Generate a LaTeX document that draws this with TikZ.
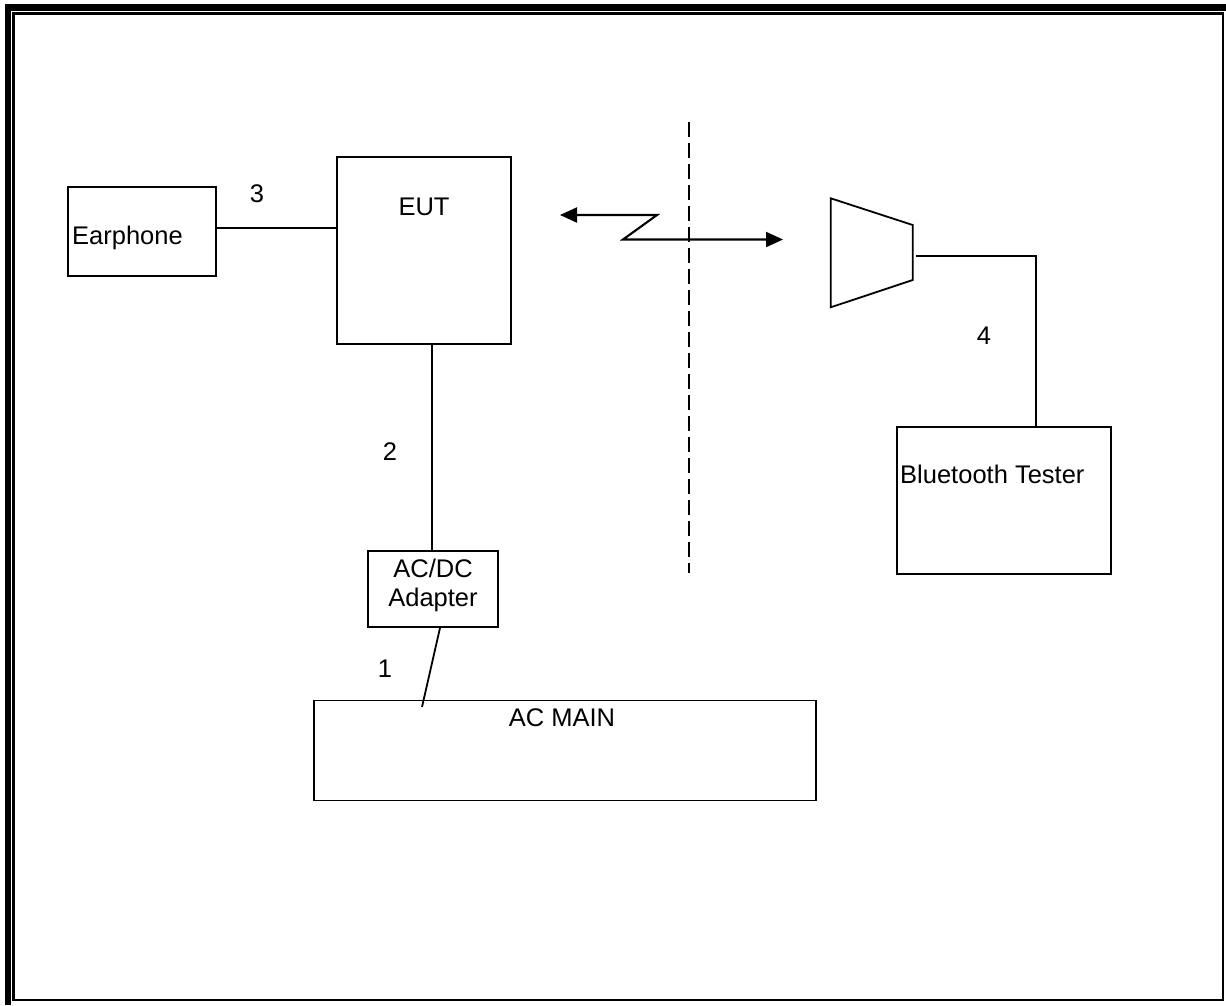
\documentclass[tikz,border=0pt]{standalone}
\usepackage{fontspec}
\setmainfont{Liberation Sans}
\usetikzlibrary{arrows.meta}
\begin{document}
\begin{tikzpicture}[x=1pt,y=-1pt,
  box/.style={draw, line width=1.8pt, inner sep=0pt},
  lbl/.style={font=\fontsize{25.5}{29}\selectfont, inner sep=0pt},
  wire/.style={line width=1.8pt},
  radio/.style={line width=2.1pt, {Triangle[length=17pt,width=15pt]}-{Triangle[length=17pt,width=15pt]}},
  sep/.style={line width=1.7pt, dash pattern=on 15pt off 6pt}
]
\useasboundingbox (0,0) rectangle (1226,1005);
% page border
\fill (4.5,3.5) rectangle (1226,10.5);
\fill (4.5,3.5) rectangle (11,1005);
\draw[line width=2.2pt] (13.5,13.5) rectangle (1223,1000);

% boxes
\node[box, minimum width=148pt, minimum height=89pt] (ear) at (142,231.5) {};
\node[box, minimum width=174pt, minimum height=187pt] (eut) at (424,250.5) {};
\node[box, minimum width=130pt, minimum height=76pt] (adp) at (433,589) {};
\node[box, minimum width=502pt, minimum height=100pt] (acm) at (565,750.5) {};
\node[box, minimum width=214pt, minimum height=147pt] (bt) at (1004,500.5) {};

% texts
\node[lbl, anchor=base west] (tear) at (72,244) {Earphone};
\node[lbl, anchor=base] (teut) at (424,215) {EUT};
\node[lbl, anchor=base] (tadp1) at (433,577) {AC/DC};
\node[lbl, anchor=base] (tadp2) at (433,606) {Adapter};
\node[lbl, anchor=base] (tacm) at (562,726) {AC MAIN};
\node[lbl, anchor=base west] (tbt) at (900,483) {Bluetooth Tester};

% cable numbers
\node[lbl, anchor=base] (n3) at (257,202) {3};
\node[lbl, anchor=base] (n2) at (390,460) {2};
\node[lbl, anchor=base] (n1) at (385,677) {1};
\node[lbl, anchor=base] (n4) at (984,344) {4};

% antenna
\coordinate (a1) at (830.7,198.3);
\coordinate (a2) at (912.7,225);
\coordinate (a3) at (912.7,280);
\coordinate (a4) at (830.7,307.3);
\draw[wire, line join=miter] (a1) -- (a2) -- (a3) -- (a4) -- cycle;
\coordinate (aout) at (916,256);

% connectors
\coordinate (e1) at ([yshift=3.5pt]ear.east);
\draw[wire] (e1) -- (e1 -| eut.west);
\coordinate (e2) at ([xshift=7.7pt]eut.south);
\draw[wire] (e2) -- (e2 |- adp.north);
\coordinate (d1) at ([xshift=7pt]adp.south);
\coordinate (m1) at (422,707);
\draw[wire] (d1) -- (m1);
\coordinate (b1) at ([xshift=32pt]bt.north);
\draw[wire] (aout) -| (b1);

% radio link
\coordinate (r1) at (560,215);
\coordinate (r2) at (657,215);
\coordinate (r3) at (623,239.5);
\coordinate (r4) at (783,239.5);
\draw[radio] (r1) -- (r2) -- (r3) -- (r4);

% separation line
\coordinate (s1) at (689,122);
\coordinate (s2) at (689,573);
\draw[sep] (s1) -- (s2);
\end{tikzpicture}
\end{document}
